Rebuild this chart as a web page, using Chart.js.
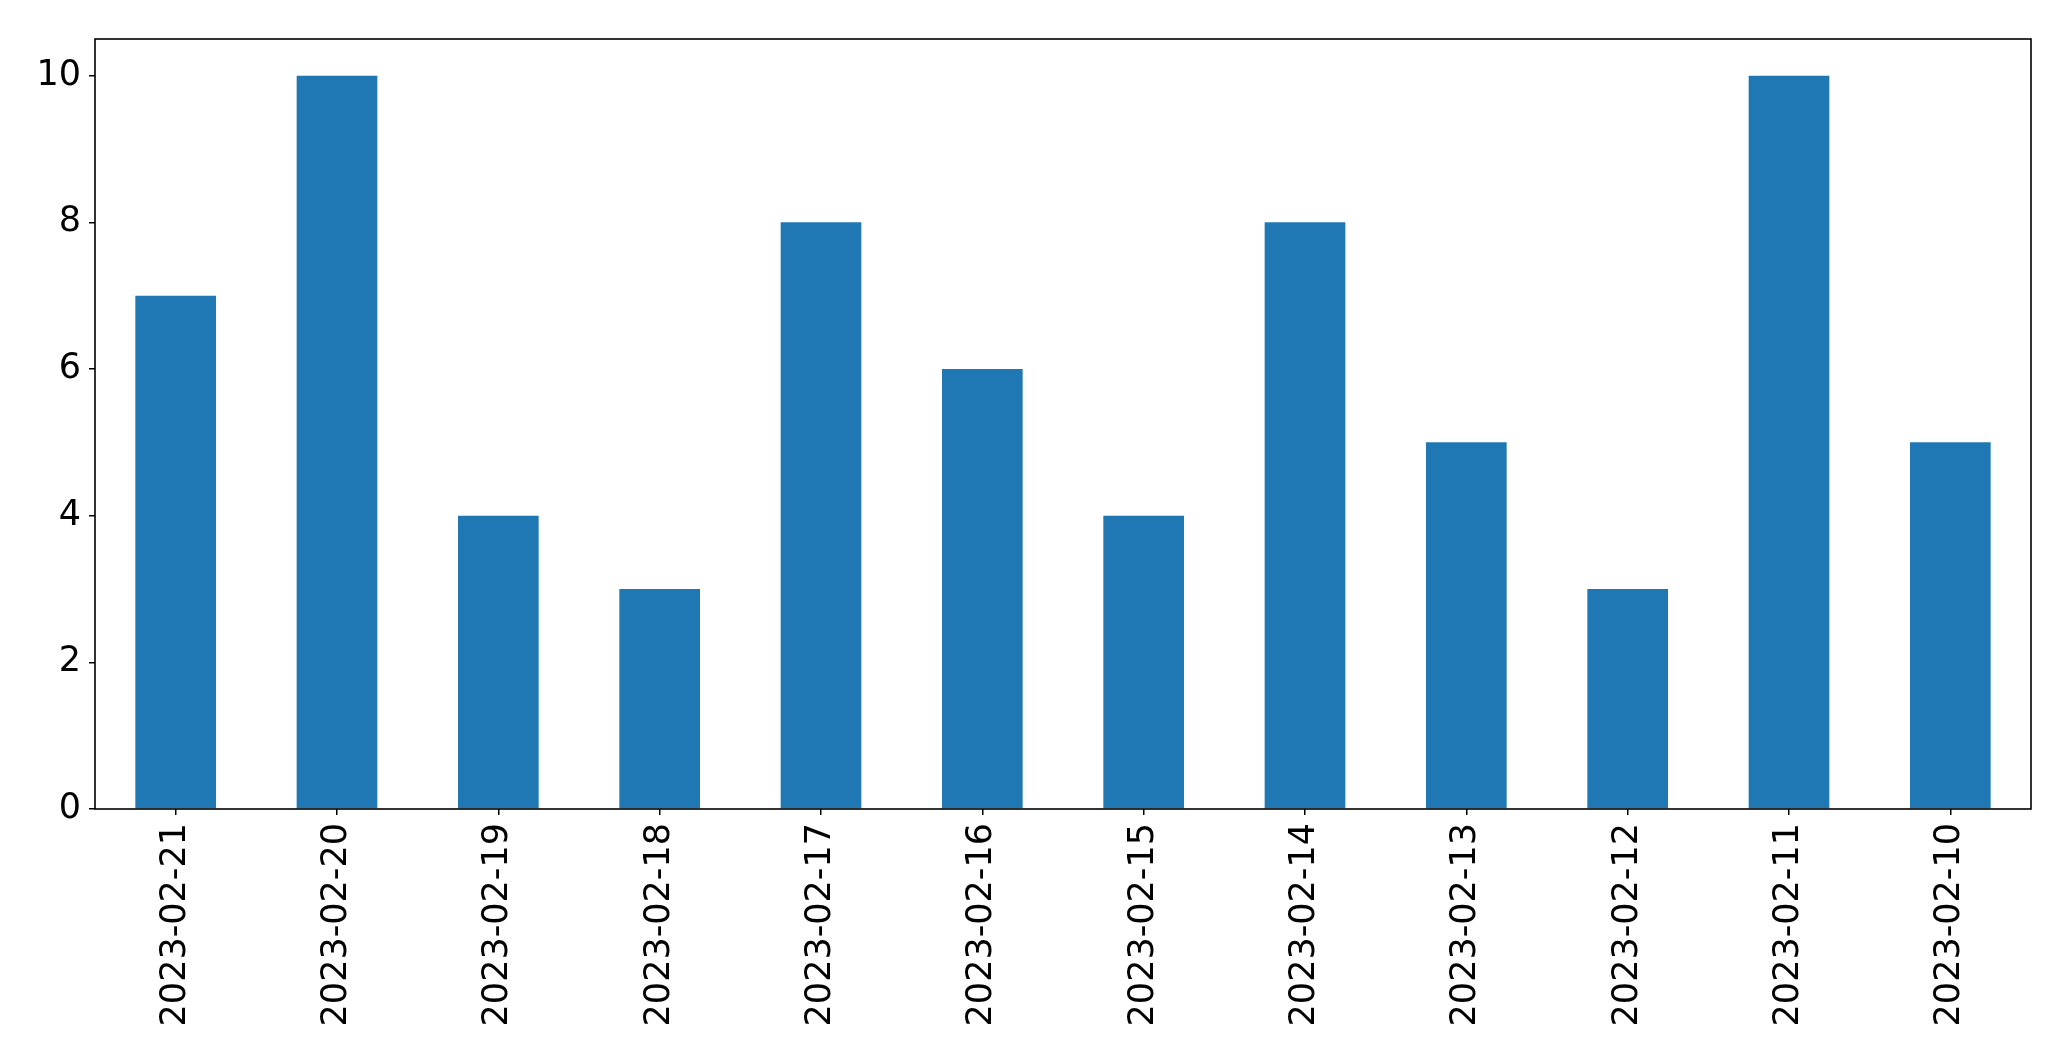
<!DOCTYPE html>
<html>
<head>
<meta charset="utf-8">
<script src="https://cdn.jsdelivr.net/npm/chart.js@4/dist/chart.umd.min.js"></script>
<style>
  html, body { margin: 0; padding: 0; background: #fff; }
  #wrap { width: 2071px; height: 1061px; }
</style>
</head>
<body>
<div id="wrap"><canvas id="chart" width="2071" height="1061"></canvas></div>
<script>
// data
const dates = ['2023-02-21', '2023-02-20', '2023-02-19', '2023-02-18', '2023-02-17', '2023-02-16',
               '2023-02-15', '2023-02-14', '2023-02-13', '2023-02-12', '2023-02-11', '2023-02-10'];
const counts = [7, 10, 4, 3, 8, 6, 4, 8, 5, 3, 10, 5];
const yTicks = [0, 2, 4, 6, 8, 10];

// box around the plot, like matplotlib's spines
const frame = {
  id: 'frame',
  afterDraw(chart) {
    const { ctx, chartArea: a } = chart;
    ctx.save();
    ctx.strokeStyle = '#000';
    ctx.lineWidth = 1.6;
    ctx.strokeRect(a.left, a.top, a.right - a.left, a.bottom - a.top);
    ctx.restore();
  }
};

const font = { family: 'DejaVu Sans', size: 35 };

new Chart(document.getElementById('chart').getContext('2d'), {
  type: 'bar',
  data: {
    labels: dates,
    datasets: [{ data: counts, backgroundColor: '#1f77b4', borderWidth: 0,
                 categoryPercentage: 0.5, barPercentage: 1.0 }]
  },
  options: {
    responsive: false,
    animation: false,
    layout: { padding: { top: 39, right: 40, left: 0, bottom: 0 } },
    plugins: { legend: { display: false }, tooltip: { enabled: false } },
    scales: {
      x: {
        offset: true,
        grid: { display: true, offset: false, drawOnChartArea: false, drawTicks: true,
                tickLength: 6, color: '#000', lineWidth: 1.5 },
        border: { display: false },
        ticks: { color: '#000', font, minRotation: 90, maxRotation: 90, padding: 8, autoSkip: false },
        afterFit(s) { s.height = 252; }
      },
      y: {
        min: 0, max: 10.5,
        grid: { display: true, drawOnChartArea: false, drawTicks: true,
                tickLength: 6, color: '#000', lineWidth: 1.5 },
        border: { display: false },
        ticks: { color: '#000', font, padding: 8 },
        afterBuildTicks(s) { s.ticks = yTicks.map(v => ({ value: v })); },
        afterFit(s) { s.width = 95; }
      }
    }
  },
  plugins: [frame]
});
</script>
</body>
</html>
